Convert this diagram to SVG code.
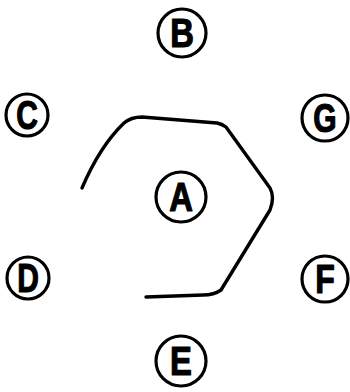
<svg xmlns="http://www.w3.org/2000/svg" width="350" height="392" viewBox="0 0 350 392">
<style>
.ring{fill:none;stroke:#000;stroke-width:3.2}
.lbl{font-family:"Liberation Sans",Arial,sans-serif;font-weight:bold;font-size:40px;fill:#000;stroke:#000;stroke-width:1.2;stroke-linejoin:round;text-anchor:middle}
.edge{fill:none;stroke:#000;stroke-width:3.4;stroke-linecap:round;stroke-linejoin:round}
</style>
<rect width="350" height="392" fill="#fff"/>
<g id="connectors">
<path class="edge" d="M82,188 Q100,146 124,123 Q131,117 142,117 L217,123 Q222,124 226,127 L270,188 Q275,197 270,210 L221,290 Q214,295 203,295 L146,297"/>
</g>
<g id="node-A"><circle class="ring" cx="181" cy="197" r="25"/><text class="lbl" x="181" y="211.5" transform="translate(181 0) scale(0.82 1) translate(-181 0)">A</text></g>
<g id="node-B"><circle class="ring" cx="182" cy="33" r="24"/><text class="lbl" x="182" y="47.5" transform="translate(182 0) scale(0.82 1) translate(-182 0)">B</text></g>
<g id="node-C"><circle class="ring" cx="27" cy="115" r="21"/><text class="lbl" x="27" y="129.5" transform="translate(27 0) scale(0.75 1) translate(-27 0)">C</text></g>
<g id="node-G"><circle class="ring" cx="325" cy="118" r="23"/><text class="lbl" x="325" y="132.5" transform="translate(325 0) scale(0.75 1) translate(-325 0)">G</text></g>
<g id="node-D"><circle class="ring" cx="28" cy="278" r="21"/><text class="lbl" x="28" y="292.5" transform="translate(28 0) scale(0.75 1) translate(-28 0)">D</text></g>
<g id="node-F"><circle class="ring" cx="325" cy="279" r="23"/><text class="lbl" x="325" y="293.5" transform="translate(325 0) scale(0.8 1) translate(-325 0)">F</text></g>
<g id="node-E"><circle class="ring" cx="181" cy="361" r="25"/><text class="lbl" x="181" y="375.5" transform="translate(181 0) scale(0.82 1) translate(-181 0)">E</text></g>
</svg>
